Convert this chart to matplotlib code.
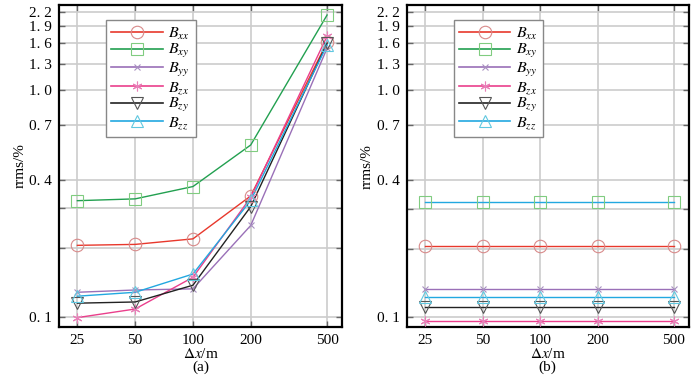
import matplotlib
matplotlib.use("Agg")
import matplotlib.pyplot as plt
from matplotlib.ticker import FixedLocator, FixedFormatter, NullLocator

plt.rcParams['font.family'] = ['Liberation Serif', 'DejaVu Serif']
plt.rcParams['mathtext.fontset'] = 'stix'

dx = [25, 50, 100, 200, 500]
names = ['xx', 'xy', 'yy', 'zx', 'zy', 'zz']

# panel (a): rms error vs grid spacing
a_bxx = [0.206, 0.208, 0.220, 0.340, 1.62]
a_bxy = [0.324, 0.330, 0.374, 0.570, 2.13]
a_byy = [0.128, 0.131, 0.1325, 0.252, 1.52]
a_bzx = [0.099, 0.108, 0.149, 0.335, 1.72]
a_bzy = [0.1146, 0.116, 0.1375, 0.305, 1.60]
a_bzz = [0.123, 0.128, 0.154, 0.325, 1.57]

# panel (b): constant
b_bxx = [0.206] * 5
b_bxy = [0.322] * 5
b_byy = [0.133] * 5
b_bzx = [0.0957] * 5
b_bzy = [0.111] * 5
b_bzz = [0.122] * 5

yticks = [0.1, 0.2, 0.3, 0.4, 0.7, 1.0, 1.3, 1.6, 1.9, 2.2]
ylabels = ['0. 1', '', '', '0. 4', '0. 7', '1. 0', '1. 3', '1. 6', '1. 9', '2. 2']

line_colors = ['#e8382c', '#22a050', '#9a70b8', '#ea3f8c', '#222222', '#22a8e0']
mark_colors = ['#d88a8a', '#80cc80', '#a890c0', '#e880b8', '#555555', '#60c8e0']
markers = ['o', 's', 'x', (6, 2, 0), 'v', '^']
msizes = [9, 9, 5, 7, 9, 9]

fig = plt.figure(figsize=(7, 3.75), dpi=100)
ax1 = fig.add_axes([0.084, 0.128, 0.405, 0.859])
ax2 = fig.add_axes([0.581, 0.127, 0.403, 0.860])


def draw(ax, series, tag, line_override=None):
    for i, (vals, nm) in enumerate(zip(series, names)):
        lc = line_colors[i]
        if line_override and i in line_override:
            lc = line_override[i]
        ax.plot(dx, vals, color=lc, lw=1.0, zorder=3)
        ax.plot(dx, vals, linestyle='none', marker=markers[i], ms=msizes[i],
                mfc='none', mec=mark_colors[i], mew=0.8, zorder=4)
    # legend proxies
    handles = []
    for i, nm in enumerate(names):
        h, = ax.plot([], [], color=line_colors[i], lw=1.2, marker=markers[i],
                     ms=msizes[i], mfc='none', mec=mark_colors[i], mew=0.8)
        handles.append(h)
    ax.legend(handles, [r'$B_{%s}$' % n for n in names], loc='upper left',
              bbox_to_anchor=(0.166, 0.952), borderaxespad=0, fontsize=11.5,
              handlelength=3.2, labelspacing=0.02, fancybox=False, framealpha=1,
              edgecolor='#888888', borderpad=0.35, handletextpad=0.35)

    ax.set_xscale('log')
    ax.set_yscale('log')
    ax.set_xlim(20, 600)
    ax.set_ylim(0.09, 2.36)
    ax.xaxis.set_major_locator(FixedLocator(dx))
    ax.xaxis.set_major_formatter(FixedFormatter([str(v) for v in dx]))
    ax.xaxis.set_minor_locator(NullLocator())
    ax.yaxis.set_major_locator(FixedLocator(yticks))
    ax.yaxis.set_major_formatter(FixedFormatter(ylabels))
    ax.yaxis.set_minor_locator(NullLocator())
    ax.grid(True, color='#cccccc', lw=1.2, zorder=0)
    ax.set_axisbelow(True)
    ax.tick_params(direction='in', length=4, width=1, color='#666666',
                   labelsize=11, top=True, right=True, pad=5)
    for sp in ax.spines.values():
        sp.set_linewidth(1.6)
    ax.set_ylabel('rrms/%', fontsize=11, labelpad=2)
    ax.set_xlabel(r'$\Delta x$/m' + '\n' + tag, fontsize=11, labelpad=0,
                  linespacing=0.95)


draw(ax1, [a_bxx, a_bxy, a_byy, a_bzx, a_bzy, a_bzz], '(a)')
draw(ax2, [b_bxx, b_bxy, b_byy, b_bzx, b_bzy, b_bzz], '(b)',
     line_override={1: '#22a8e0'})

fig.savefig('out.png', dpi=100)
